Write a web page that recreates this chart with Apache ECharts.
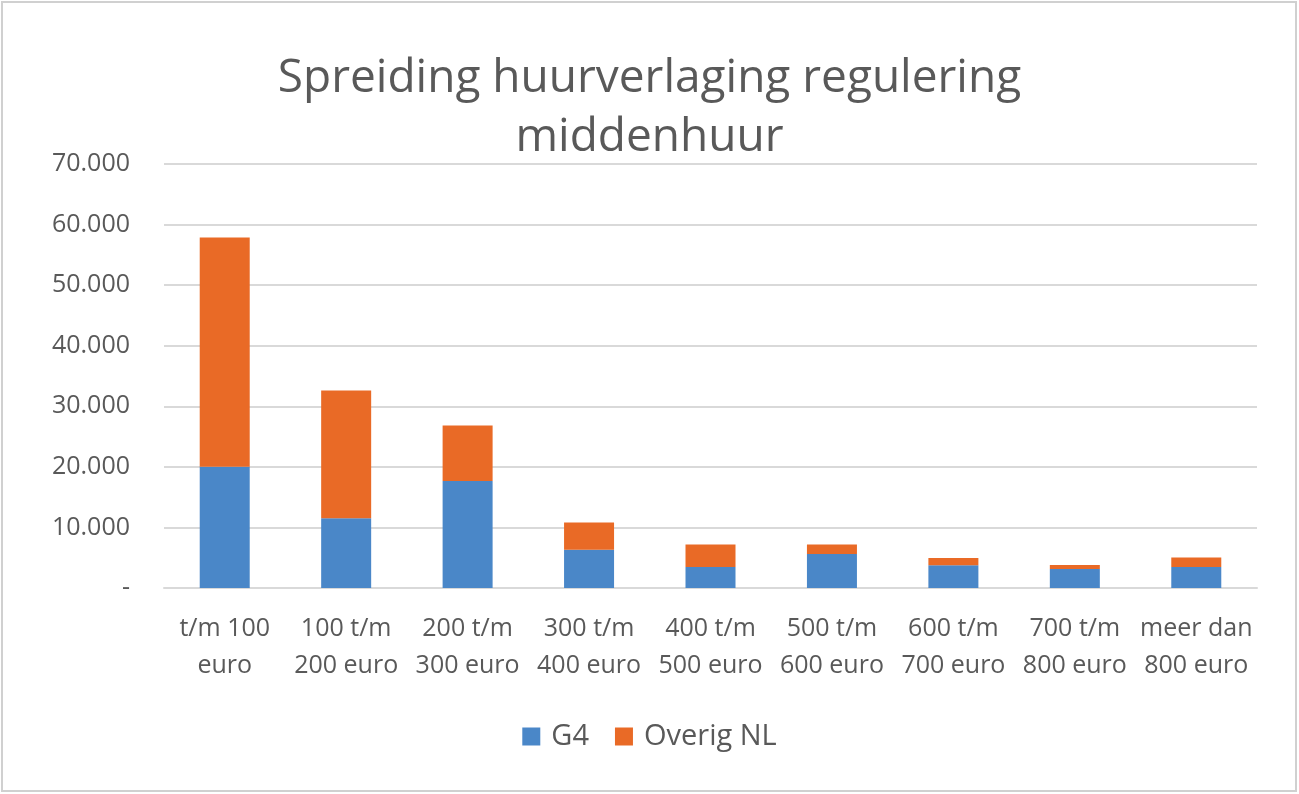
<!DOCTYPE html>
<html>
<head>
<meta charset="utf-8">
<style>
html,body{margin:0;padding:0;background:#fff;}
#chart{width:1299px;height:794px;}
</style>
<script src="https://cdn.jsdelivr.net/npm/echarts@6/dist/echarts.min.js"></script>
</head>
<body>
<div id="chart"></div>
<script>
const titleText = 'Spreiding huurverlaging regulering\nmiddenhuur';
const categories = ['t/m 100\neuro', '100 t/m\n200 euro', '200 t/m\n300 euro', '300 t/m\n400 euro', '400 t/m\n500 euro', '500 t/m\n600 euro', '600 t/m\n700 euro', '700 t/m\n800 euro', 'meer dan\n800 euro'];
const seriesNames = ['G4', 'Overig NL'];
const g4Values = [20000, 11500, 17650, 6300, 3480, 5630, 3760, 3150, 3480];
const totalValues = [57850, 32600, 26820, 10830, 7190, 7190, 4970, 3810, 5030];
const overigValues = totalValues.map((t, i) => t - g4Values[i]);

const chart = echarts.init(document.getElementById('chart'));
const textColor = '#595959';
const fontFam = '"Open Sans", "Noto Sans", sans-serif';
chart.setOption({
  animation: false,
  title: {
    text: titleText,
    left: 'center',
    top: 44,
    textStyle: { fontSize: 46, fontWeight: 'normal', color: textColor, fontFamily: fontFam, lineHeight: 59 }
  },
  graphic: [{
    type: 'rect',
    shape: { x: 2, y: 2, width: 1294, height: 789 },
    style: { fill: 'none', stroke: '#d0d0d0', lineWidth: 2 }
  }],
  legend: {
    bottom: 38,
    left: 'center',
    itemWidth: 18,
    itemHeight: 18,
    itemGap: 26,
    icon: 'rect',
    textStyle: { fontSize: 29, color: textColor, fontFamily: fontFam, padding: [0, 0, 0, 6] },
    data: seriesNames
  },
  grid: { left: 164, right: 42, top: 164, bottom: 206 },
  xAxis: {
    type: 'category',
    data: categories,
    axisLine: { lineStyle: { color: '#d9d9d9', width: 2 } },
    axisTick: { show: false },
    axisLabel: { fontSize: 25, color: textColor, fontFamily: fontFam, lineHeight: 37, margin: 22, interval: 0 }
  },
  yAxis: {
    type: 'value',
    min: 0,
    max: 70000,
    interval: 10000,
    axisLine: { show: false },
    axisTick: { show: false },
    splitLine: { lineStyle: { color: '#d9d9d9', width: 2 } },
    axisLabel: {
      fontSize: 25, color: textColor, fontFamily: fontFam, margin: 34,
      formatter: v => v === 0 ? '-' : String(v).replace(/\B(?=(\d{3})+(?!\d))/g, '.')
    }
  },
  series: [
    { name: seriesNames[0], type: 'bar', stack: 'a', data: g4Values, barWidth: 50, itemStyle: { color: '#4a87c8' } },
    { name: seriesNames[1], type: 'bar', stack: 'a', data: overigValues, barWidth: 50, itemStyle: { color: '#e96a26' } }
  ]
});
</script>
</body>
</html>
